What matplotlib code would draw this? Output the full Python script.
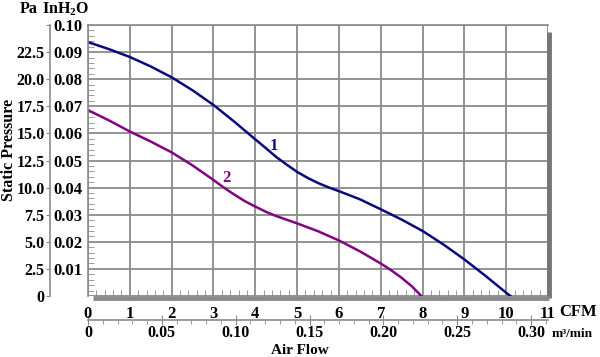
import matplotlib
matplotlib.use("Agg")
import matplotlib.pyplot as plt
import numpy as np

plt.rcParams['font.family'] = ['Liberation Serif', 'DejaVu Serif']
plt.rcParams['font.weight'] = 'bold'
plt.rcParams['mathtext.fontset'] = 'custom'
plt.rcParams['mathtext.rm'] = 'Liberation Serif:bold'
plt.rcParams['mathtext.bf'] = 'Liberation Serif:bold'

# curve 1 (blue) - CFM vs inH2O
cfm_1 = [0, 0.5, 1, 1.5, 2, 2.5, 3, 3.5, 4, 4.25, 4.5, 4.75, 5, 5.25, 5.5, 5.75, 6,
         6.5, 7, 7.5, 8, 8.5, 9, 9.5, 10, 10.1]
inh2o_1 = [0.0937, 0.0911, 0.0882, 0.0847, 0.0807, 0.0759, 0.0705, 0.0643, 0.0578, 0.0546,
           0.0513, 0.0485, 0.0458, 0.0436, 0.0417, 0.0401, 0.0387, 0.0357, 0.0320, 0.0282,
           0.0240, 0.0190, 0.0135, 0.0075, 0.0012, 0.0]

# curve 2 (purple)
cfm_2 = [0, 0.5, 1, 1.5, 2, 2.5, 3, 3.25, 3.5, 3.75, 4, 4.25, 4.5, 5, 5.5, 6, 6.5, 7,
         7.25, 7.5, 7.75, 7.97]
inh2o_2 = [0.0686, 0.0648, 0.0607, 0.0570, 0.0530, 0.0482, 0.0428, 0.0400, 0.0374, 0.0350,
           0.0330, 0.0311, 0.0295, 0.0268, 0.0239, 0.0205, 0.0165, 0.0120, 0.0095, 0.0067,
           0.0035, 0.0]

cfm_ticks = list(range(0, 12))
inh2o_ticks = [0, 0.01, 0.02, 0.03, 0.04, 0.05, 0.06, 0.07, 0.08, 0.09, 0.10]
inh2o_labels = ['', '0.01', '0.02', '0.03', '0.04', '0.05', '0.06', '0.07', '0.08', '0.09', '0.10']
pa_labels = ['0', '2.5', '5.0', '7.5', '10.0', '12.5', '15.0', '17.5', '20.0', '22.5', '']
m3_ticks = [0, 0.05, 0.10, 0.15, 0.20, 0.25, 0.30]
m3_labels = ['0', '0.05', '0.10', '0.15', '0.20', '0.25', '0.30']

CFM_TO_M3 = 0.0283168
FS = 12

fig = plt.figure(figsize=(6.0, 3.57), dpi=100)
ax = fig.add_axes([88/600, 1-296/357, 460/600, 271/357])

ax.set_xlim(0, 11)
ax.set_ylim(0, 0.10)
ax.grid(True, color='#8a8a8a', lw=1.3)
ax.set_axisbelow(True)

ax.plot(cfm_1, inh2o_1, color='#0a0a80', lw=1.8, solid_joinstyle='round')
ax.plot(cfm_2, inh2o_2, color='#820382', lw=1.8, solid_joinstyle='round')
ax.text(4.45, 0.0555, '1', color='#0a0a80', fontsize=FS, fontweight='bold', ha='center', va='center')
ax.text(3.3, 0.0435, '2', color='#820382', fontsize=FS, fontweight='bold', ha='center', va='center')

for s in ['top', 'left']:
    ax.spines[s].set_color('#8a8a8a')
    ax.spines[s].set_linewidth(1.2)
ax.spines['right'].set_visible(False)
ax.spines['bottom'].set_visible(False)

# shadow bars right and bottom
ax.plot([1.002, 1.002], [0.975, -0.006], transform=ax.transAxes, color='#767676', lw=3.5,
        clip_on=False, solid_capstyle='butt')
ax.plot([0.01, 1.002], [-0.006, -0.006], transform=ax.transAxes, color='#8a8a8a', lw=3.5,
        clip_on=False, solid_capstyle='butt')

# x ticks (CFM)
ax.set_xticks(cfm_ticks)
ax.set_xticklabels([str(t) for t in cfm_ticks], fontsize=FS, fontweight='bold')
ax.tick_params(axis='x', which='major', length=0, pad=7)
ax.set_xticks(np.arange(0, 11.01, 0.2), minor=True)
ax.tick_params(axis='x', which='minor', direction='in', length=4, color='#8a8a8a', top=False)

# y ticks (inH2O)
ax.set_yticks(inh2o_ticks)
ax.set_yticklabels(inh2o_labels, fontsize=FS, fontweight='bold')
ax.tick_params(axis='y', which='major', length=0, pad=4)
ax.set_yticks(np.arange(0, 0.1001, 0.002), minor=True)
ax.tick_params(axis='y', which='minor', direction='in', length=4, color='#8a8a8a')

# Pa axis on the left
pa_ax = ax.secondary_yaxis(-38/460)
pa_ax.set_yticks(inh2o_ticks)
pa_ax.set_yticklabels(pa_labels, fontsize=11.5, fontweight='bold')
pa_ax.tick_params(axis='y', length=3, color='#8a8a8a', pad=1)
pa_ax.spines['left'].set_color('#8a8a8a')
pa_ax.spines['left'].set_linewidth(1.2)

# m3/min axis below
m3_ax = ax.secondary_xaxis(-24/271, functions=(lambda x: x*CFM_TO_M3, lambda x: x/CFM_TO_M3))
m3_ax.set_xticks(m3_ticks)
m3_ax.set_xticklabels(m3_labels, fontsize=11.5, fontweight='bold')
m3_ax.set_xticks(np.arange(0, 0.3101, 0.01), minor=True)
m3_ax.tick_params(axis='x', which='major', direction='inout', length=7, color='#8a8a8a', pad=0)
m3_ax.tick_params(axis='x', which='minor', direction='out', length=3, color='#8a8a8a')
m3_ax.spines['bottom'].set_color('#8a8a8a')
m3_ax.spines['bottom'].set_linewidth(1.2)

fig.text(559/600, 1-312/357, 'CFM', fontsize=FS, fontweight='bold', ha='left', va='center')
fig.text(552/600, 1-334/357, 'm\u00b3/min', fontsize=9.5, fontweight='bold', ha='left', va='center')
fig.text(300/600, 1-357/357, 'Air Flow', fontsize=11, fontweight='bold', ha='center', va='bottom')
fig.text(1/600, 1-150/357, 'Static Pressure', fontsize=11.5, fontweight='bold', rotation=90,
         ha='left', va='center')
fig.text(20/600, 1-9/357, 'Pa', fontsize=11.5, fontweight='bold', ha='left', va='center')
fig.text(42/600, 1-9/357, r'InH$_2$O', fontsize=11.5, fontweight='bold', ha='left', va='center')

fig.savefig('out.png', dpi=100)
